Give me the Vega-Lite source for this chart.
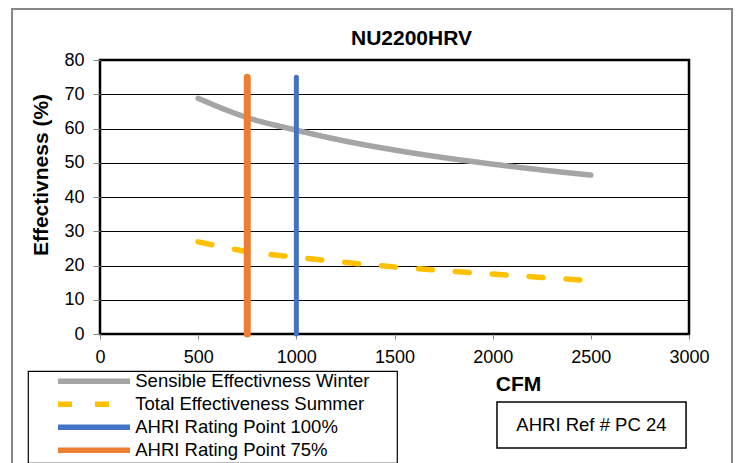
{
  "$schema": "https://vega.github.io/schema/vega-lite/v6.json",
  "width": 589,
  "height": 274,
  "autosize": {"type": "none"},
  "padding": {"left": 100, "top": 60, "right": 50, "bottom": 129},
  "background": "white",
  "title": {"text": "NU2200HRV", "frame": "group", "anchor": "middle", "dx": 17, "offset": -58, "baseline": "alphabetic", "fontSize": 21, "fontWeight": "bold", "color": "black"},
  "datasets": {
    "curves": [
      {"series": "Sensible Effectivness Winter", "CFM": 500, "eff": 68.8},
      {"series": "Sensible Effectivness Winter", "CFM": 750, "eff": 63.2},
      {"series": "Sensible Effectivness Winter", "CFM": 1000, "eff": 59.5},
      {"series": "Sensible Effectivness Winter", "CFM": 1250, "eff": 56.3},
      {"series": "Sensible Effectivness Winter", "CFM": 1500, "eff": 53.7},
      {"series": "Sensible Effectivness Winter", "CFM": 1750, "eff": 51.5},
      {"series": "Sensible Effectivness Winter", "CFM": 2000, "eff": 49.6},
      {"series": "Sensible Effectivness Winter", "CFM": 2250, "eff": 47.9},
      {"series": "Sensible Effectivness Winter", "CFM": 2500, "eff": 46.4},
      {"series": "Total Effectiveness Summer", "CFM": 500, "eff": 26.9},
      {"series": "Total Effectiveness Summer", "CFM": 750, "eff": 24.1},
      {"series": "Total Effectiveness Summer", "CFM": 1000, "eff": 22.4},
      {"series": "Total Effectiveness Summer", "CFM": 1250, "eff": 20.9},
      {"series": "Total Effectiveness Summer", "CFM": 1500, "eff": 19.6},
      {"series": "Total Effectiveness Summer", "CFM": 1750, "eff": 18.5},
      {"series": "Total Effectiveness Summer", "CFM": 2000, "eff": 17.5},
      {"series": "Total Effectiveness Summer", "CFM": 2250, "eff": 16.5},
      {"series": "Total Effectiveness Summer", "CFM": 2500, "eff": 15.6}
    ],
    "rating": [
      {"series": "AHRI Rating Point 100%", "CFM": 1000, "low": 0, "high": 75},
      {"series": "AHRI Rating Point 75%", "CFM": 750, "low": 0, "high": 75}
    ],
    "notes": [
      {"label": "AHRI Ref # PC 24", "x0": 2022, "x1": 2985, "y0": -19.85, "y1": -33.3, "xc": 2503, "yc": -26.6}
    ],
    "chartBorder": [
      {"x0": -448, "x1": 3219, "y0": 94.9, "y1": -60}
    ]
  },
  "layer": [
    {
      "data": {"name": "chartBorder"},
      "mark": {"type": "rect", "fill": "transparent", "stroke": "#868686", "strokeWidth": 2},
      "encoding": {
        "x": {"field": "x0", "type": "quantitative", "title": "CFM", "scale": {"domain": [0, 3000], "nice": false}, "axis": {"values": [0, 500, 1000, 1500, 2000, 2500, 3000], "format": "d"}},
        "x2": {"field": "x1"},
        "y": {"field": "y0", "type": "quantitative", "title": "Effectivness (%)", "scale": {"domain": [0, 80], "nice": false}, "axis": {"values": [0, 10, 20, 30, 40, 50, 60, 70, 80], "format": "d"}},
        "y2": {"field": "y1"}
      }
    },
    {
      "data": {"name": "curves"},
      "mark": {"type": "line", "strokeWidth": 5.5, "strokeCap": "round", "interpolate": "monotone"},
      "encoding": {
        "x": {"field": "CFM", "type": "quantitative", "title": "CFM", "scale": {"domain": [0, 3000], "nice": false}, "axis": {"values": [0, 500, 1000, 1500, 2000, 2500, 3000], "format": "d"}},
        "y": {"field": "eff", "type": "quantitative", "title": "Effectivness (%)", "scale": {"domain": [0, 80], "nice": false}, "axis": {"values": [0, 10, 20, 30, 40, 50, 60, 70, 80], "format": "d"}},
        "color": {
          "field": "series", "type": "nominal",
          "scale": {"domain": ["Sensible Effectivness Winter", "Total Effectiveness Summer", "AHRI Rating Point 100%", "AHRI Rating Point 75%"], "range": ["#A5A5A5", "#FFC000", "#4472C4", "#ED7D31"]},
          "legend": {"orient": "none", "legendX": -72, "legendY": 311, "symbolType": "M-6,0H6", "symbolSize": 144, "symbolStrokeWidth": 5.5, "symbolOffset": 55.75, "labelOffset": 32, "labelExpr": "datum.label + '\u00a0\u00a0\u00a0\u00a0\u00a0\u200b'"}
        },
        "strokeDash": {
          "field": "series", "type": "nominal",
          "scale": {"domain": ["Sensible Effectivness Winter", "Total Effectiveness Summer", "AHRI Rating Point 100%", "AHRI Rating Point 75%"], "range": [[1, 0], [14, 23], [1, 0], [1, 0]]},
          "legend": {"orient": "none", "legendX": -72, "legendY": 311, "symbolType": "M-6,0H6", "symbolSize": 144, "symbolStrokeWidth": 5.5, "symbolOffset": 55.75, "labelOffset": 32, "labelExpr": "datum.label + '\u00a0\u00a0\u00a0\u00a0\u00a0\u200b'"}
        }
      }
    },
    {
      "data": {"name": "rating"},
      "mark": {"type": "rule", "strokeCap": "round"},
      "encoding": {
        "x": {"field": "CFM", "type": "quantitative", "title": "CFM", "scale": {"domain": [0, 3000], "nice": false}, "axis": {"values": [0, 500, 1000, 1500, 2000, 2500, 3000], "format": "d"}},
        "y": {"field": "low", "type": "quantitative", "title": "Effectivness (%)", "scale": {"domain": [0, 80], "nice": false}, "axis": {"values": [0, 10, 20, 30, 40, 50, 60, 70, 80], "format": "d"}},
        "y2": {"field": "high"},
        "color": {"field": "series", "type": "nominal"},
        "strokeDash": {"field": "series", "type": "nominal"},
        "strokeWidth": {"condition": {"test": "datum.series === 'AHRI Rating Point 75%'", "value": 7}, "value": 5}
      }
    },
    {
      "data": {"name": "notes"},
      "mark": {"type": "rect", "fill": "white", "stroke": "black", "strokeWidth": 1.5},
      "encoding": {
        "x": {"field": "x0", "type": "quantitative", "title": "CFM", "scale": {"domain": [0, 3000], "nice": false}, "axis": {"values": [0, 500, 1000, 1500, 2000, 2500, 3000], "format": "d"}},
        "x2": {"field": "x1"},
        "y": {"field": "y0", "type": "quantitative", "title": "Effectivness (%)", "scale": {"domain": [0, 80], "nice": false}, "axis": {"values": [0, 10, 20, 30, 40, 50, 60, 70, 80], "format": "d"}},
        "y2": {"field": "y1"}
      }
    },
    {
      "data": {"name": "notes"},
      "mark": {"type": "text", "fontSize": 18.5, "color": "black", "align": "center", "baseline": "middle"},
      "encoding": {
        "x": {"field": "xc", "type": "quantitative", "title": "CFM", "scale": {"domain": [0, 3000], "nice": false}, "axis": {"values": [0, 500, 1000, 1500, 2000, 2500, 3000], "format": "d"}},
        "y": {"field": "yc", "type": "quantitative", "title": "Effectivness (%)", "scale": {"domain": [0, 80], "nice": false}, "axis": {"values": [0, 10, 20, 30, 40, 50, 60, 70, 80], "format": "d"}},
        "text": {"field": "label"}
      }
    }
  ],
  "config": {
    "font": "Liberation Sans",
    "view": {"stroke": "black", "strokeWidth": 2.5},
    "axisX": {
      "grid": false, "domain": false,
      "tickColor": "#868686", "tickSize": 5, "tickWidth": 1,
      "labelFontSize": 18, "labelColor": "black", "labelPadding": 9, "labelFlush": false,
      "titleFontSize": 21, "titleFontWeight": "bold", "titleColor": "black",
      "titleX": 418, "titleY": 56, "titleBaseline": "alphabetic", "titleAlign": "center"
    },
    "axisY": {
      "grid": true, "gridColor": "black", "gridWidth": 1, "gridOpacity": 1, "domain": false,
      "tickColor": "#868686", "tickSize": 7, "tickWidth": 1,
      "labelFontSize": 18, "labelColor": "black", "labelPadding": 9, "labelFlush": false,
      "titleFontSize": 21, "titleFontWeight": "bold", "titleColor": "black",
      "titleX": -59, "titleY": 114.5, "titleAngle": 270, "titleBaseline": "middle", "titleAlign": "center"
    },
    "legend": {
      "title": "\u00a0", "titleOrient": "bottom", "titleFontSize": 8, "titlePadding": 4,
      "padding": 1, "strokeColor": "black", "fillColor": "white", "strokeWidth": 1.2,
      "labelFontSize": 18.5, "labelColor": "black", "labelLimit": 400, "labelFont": "Liberation Sans",
      "rowPadding": 0
    }
  }
}
